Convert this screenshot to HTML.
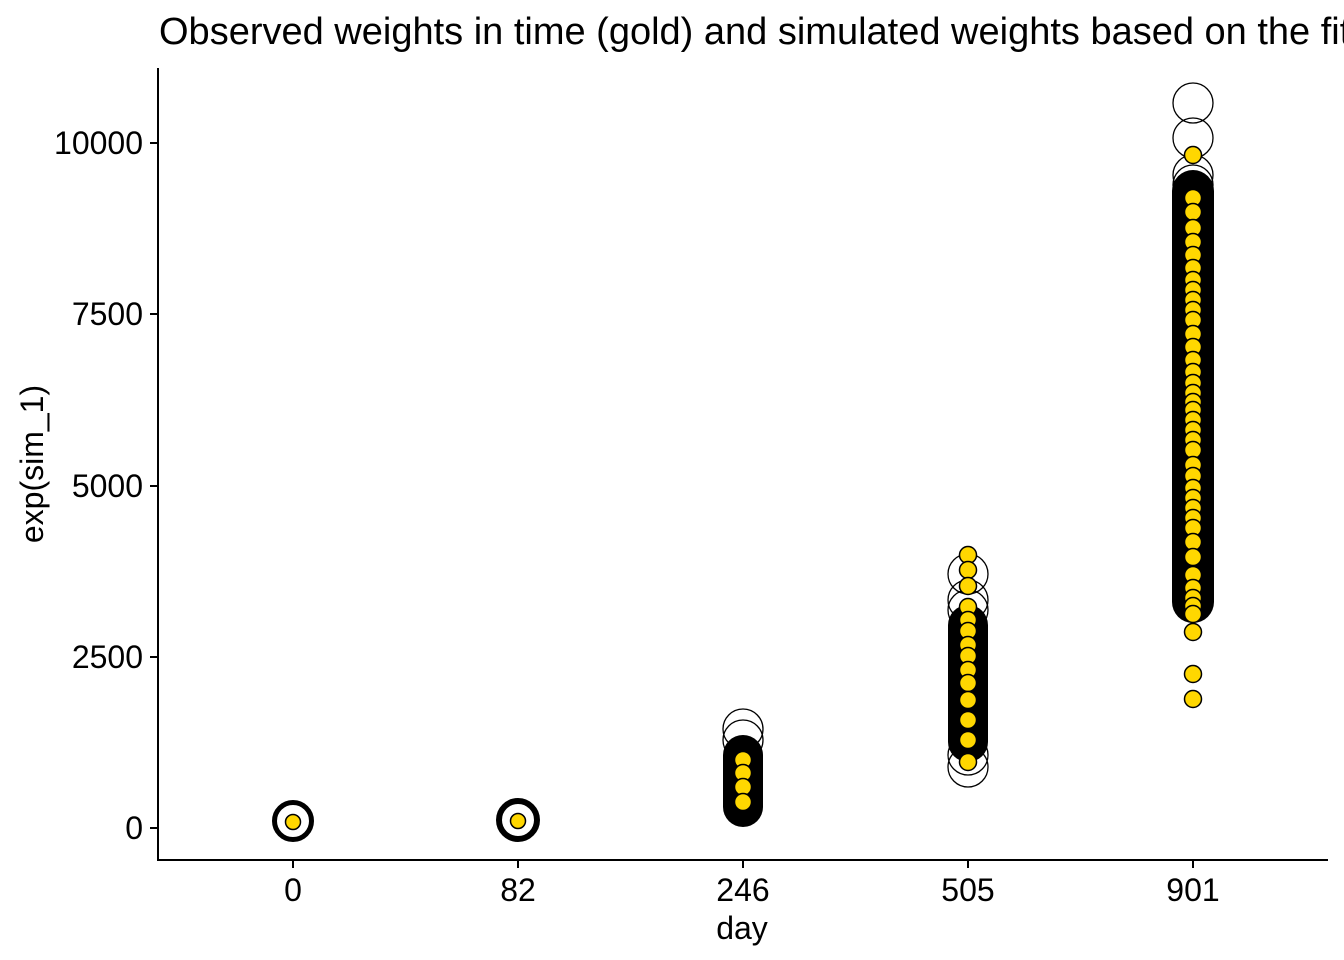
<!DOCTYPE html>
<html><head><meta charset="utf-8"><style>
html,body{margin:0;padding:0;background:#fff;}
svg{display:block;font-family:"Liberation Sans",sans-serif;}
</style></head><body>
<svg width="1344" height="960" viewBox="0 0 1344 960">
<rect width="1344" height="960" fill="#fff"/>
<text x="159" y="44" font-size="38" fill="#000">Observed weights in time (gold) and simulated weights based on the fitted model</text>
<line x1="158" y1="68" x2="158" y2="861" stroke="#000" stroke-width="2"/>
<line x1="157" y1="860" x2="1328" y2="860" stroke="#000" stroke-width="2"/>
<g stroke="#000" stroke-width="2">
<line x1="150" y1="828" x2="158" y2="828"/><line x1="150" y1="657" x2="158" y2="657"/>
<line x1="150" y1="486" x2="158" y2="486"/><line x1="150" y1="314" x2="158" y2="314"/>
<line x1="150" y1="143" x2="158" y2="143"/>
<line x1="293" y1="860" x2="293" y2="868"/><line x1="518" y1="860" x2="518" y2="868"/>
<line x1="743" y1="860" x2="743" y2="868"/><line x1="968" y1="860" x2="968" y2="868"/>
<line x1="1193" y1="860" x2="1193" y2="868"/>
</g>
<g font-size="32" fill="#000" text-anchor="end">
<text x="143" y="839">0</text><text x="143" y="668">2500</text><text x="143" y="497">5000</text>
<text x="143" y="325">7500</text><text x="143" y="154">10000</text>
</g>
<g font-size="32" fill="#000" text-anchor="middle">
<text x="293" y="901">0</text><text x="518" y="901">82</text><text x="743" y="901">246</text>
<text x="968" y="901">505</text><text x="1193" y="901">901</text>
<text x="742" y="939">day</text>
</g>
<text transform="translate(43,464) rotate(-90)" font-size="32" text-anchor="middle">exp(sim_1)</text>
<g fill="none" stroke="#000" stroke-width="1.3">
<circle cx="293" cy="821" r="18.5" stroke-width="5"/>
<circle cx="518" cy="820" r="19" stroke-width="6"/>
<circle cx="743" cy="729" r="20"/><circle cx="743" cy="740" r="20"/>
<circle cx="968" cy="574" r="20"/><circle cx="968" cy="767" r="20"/><circle cx="968" cy="755" r="20"/>
<circle cx="968" cy="600" r="20"/><circle cx="968" cy="610" r="20"/>
<circle cx="1193" cy="103" r="20"/><circle cx="1193" cy="138" r="20"/>
<circle cx="1193" cy="175" r="20"/><circle cx="1193" cy="185" r="20"/><circle cx="1193" cy="195" r="20"/>
<circle cx="1193" cy="205" r="20"/><circle cx="1193" cy="215" r="20"/><circle cx="1193" cy="225" r="20"/>
</g>
<g fill="#000">
<rect x="723" y="735" width="40" height="92" rx="20"/>
<rect x="948" y="605" width="40" height="157" rx="20"/>
<rect x="1172" y="170" width="42" height="453" rx="21"/>
</g>
<g fill="#FFD700" stroke="#000" stroke-width="1.5">
<circle cx="293" cy="822" r="7.5"/><circle cx="518" cy="821" r="7.5"/>
<circle cx="743" cy="760" r="8.5"/><circle cx="743" cy="773" r="8.5"/><circle cx="743" cy="787" r="8.5"/><circle cx="743" cy="802" r="8.5"/>
<circle cx="968" cy="555" r="8.5"/><circle cx="968" cy="570" r="8.5"/><circle cx="968" cy="586" r="8.5"/><circle cx="968" cy="607" r="8.5"/>
<circle cx="968" cy="620" r="8.5"/><circle cx="968" cy="631" r="8.5"/><circle cx="968" cy="645" r="8.5"/><circle cx="968" cy="656" r="8.5"/>
<circle cx="968" cy="670" r="8.5"/><circle cx="968" cy="683" r="8.5"/><circle cx="968" cy="700" r="8.5"/>
<circle cx="968" cy="720" r="8.5"/><circle cx="968" cy="740" r="8.5"/><circle cx="968" cy="762" r="8.5"/>
<circle cx="1193" cy="155" r="8.5"/><circle cx="1193" cy="198" r="8.5"/><circle cx="1193" cy="212" r="8.5"/><circle cx="1193" cy="228" r="8.5"/>
<circle cx="1193" cy="242" r="8.5"/><circle cx="1193" cy="255" r="8.5"/><circle cx="1193" cy="268" r="8.5"/><circle cx="1193" cy="280" r="8.5"/>
<circle cx="1193" cy="290" r="8.5"/><circle cx="1193" cy="300" r="8.5"/><circle cx="1193" cy="310" r="8.5"/>
<circle cx="1193" cy="320" r="8.5"/><circle cx="1193" cy="334" r="8.5"/><circle cx="1193" cy="347" r="8.5"/><circle cx="1193" cy="360" r="8.5"/><circle cx="1193" cy="372" r="8.5"/>
<circle cx="1193" cy="383" r="8.5"/><circle cx="1193" cy="393" r="8.5"/><circle cx="1193" cy="402" r="8.5"/><circle cx="1193" cy="410" r="8.5"/><circle cx="1193" cy="420" r="8.5"/><circle cx="1193" cy="430" r="8.5"/>
<circle cx="1193" cy="440" r="8.5"/><circle cx="1193" cy="450" r="8.5"/><circle cx="1193" cy="465" r="8.5"/><circle cx="1193" cy="476" r="8.5"/><circle cx="1193" cy="488" r="8.5"/>
<circle cx="1193" cy="498" r="8.5"/><circle cx="1193" cy="508" r="8.5"/><circle cx="1193" cy="518" r="8.5"/><circle cx="1193" cy="528" r="8.5"/><circle cx="1193" cy="542" r="8.5"/><circle cx="1193" cy="557" r="8.5"/>
<circle cx="1193" cy="575" r="8.5"/><circle cx="1193" cy="588" r="8.5"/><circle cx="1193" cy="598" r="8.5"/><circle cx="1193" cy="606" r="8.5"/><circle cx="1193" cy="614" r="8.5"/>
<circle cx="1193" cy="632" r="8.5"/><circle cx="1193" cy="674" r="8.5"/><circle cx="1193" cy="699" r="8.5"/>
</g>
</svg>
</body></html>
